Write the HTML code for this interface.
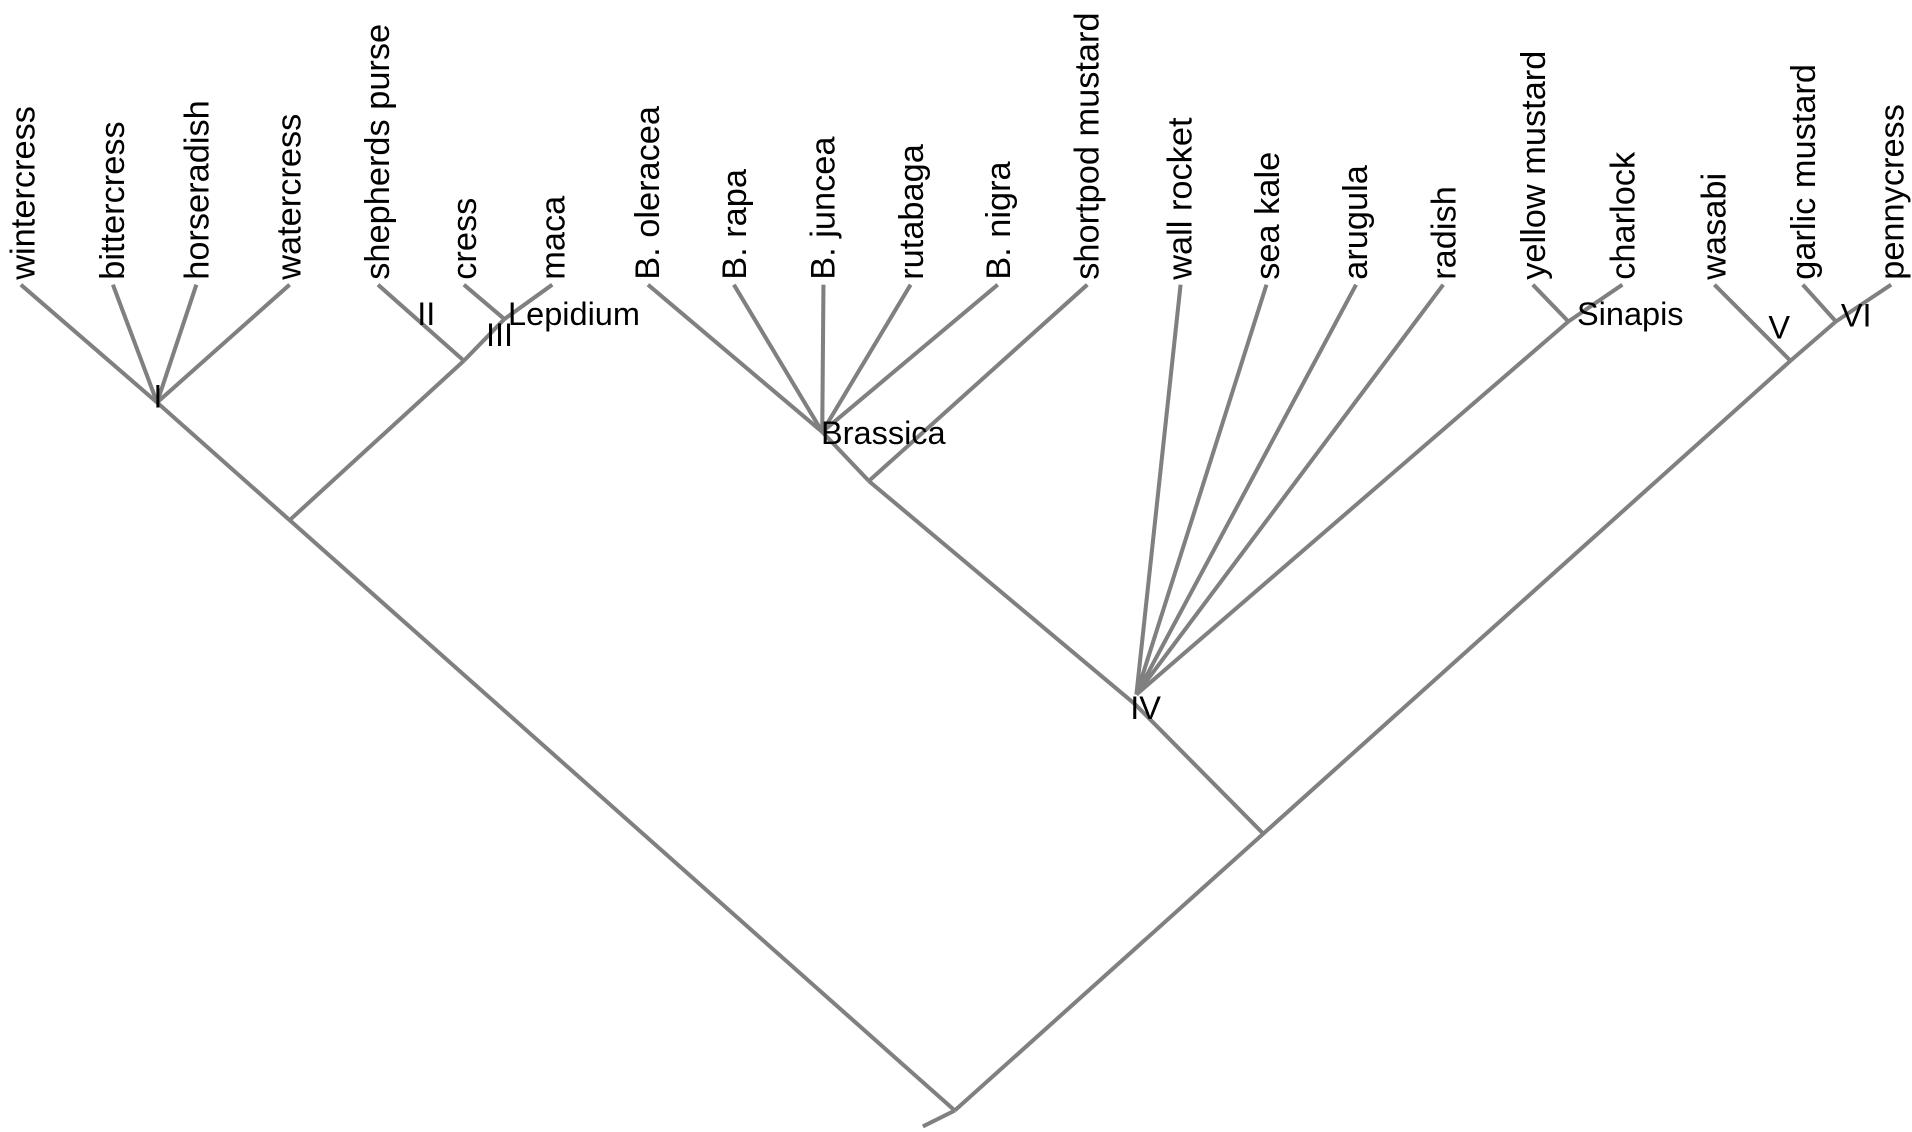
<!DOCTYPE html>
<html><head><meta charset="utf-8"><style>
html,body{margin:0;padding:0;background:#fff;}
svg{display:block;}
text{font-family:"Liberation Sans",Arial,sans-serif;font-size:26.5px;fill:#000;}
text.leaf{font-size:28px;}
</style></head><body>
<svg width="1912" height="1132" viewBox="0 0 1558 922.5" preserveAspectRatio="none">
<g stroke="#808080" stroke-width="3.3" fill="none" stroke-linecap="butt">
<line x1="17" y1="232" x2="128" y2="328"/>
<line x1="92" y1="232" x2="128" y2="328"/>
<line x1="160" y1="232" x2="128" y2="328"/>
<line x1="236" y1="232" x2="128" y2="328"/>
<line x1="128" y1="328" x2="778" y2="905"/>
<line x1="308" y1="232" x2="378" y2="294"/>
<line x1="378" y1="232" x2="411" y2="260"/>
<line x1="450" y1="232" x2="411" y2="260"/>
<line x1="411" y1="260" x2="378" y2="294"/>
<line x1="378" y1="294" x2="237" y2="423"/>
<line x1="528" y1="232" x2="670" y2="352"/>
<line x1="598" y1="232" x2="670" y2="352"/>
<line x1="671" y1="232" x2="670" y2="352"/>
<line x1="742" y1="232" x2="670" y2="352"/>
<line x1="813" y1="232" x2="670" y2="352"/>
<line x1="670" y1="352" x2="708" y2="392"/>
<line x1="886" y1="232" x2="708" y2="392"/>
<line x1="708" y1="392" x2="925" y2="574"/>
<line x1="962" y1="232" x2="926" y2="566"/>
<line x1="1032" y1="232" x2="926" y2="566"/>
<line x1="1105" y1="232" x2="926" y2="566"/>
<line x1="1176" y1="232" x2="926" y2="566"/>
<line x1="1249" y1="232" x2="1278" y2="262"/>
<line x1="1322" y1="232" x2="1278" y2="262"/>
<line x1="1278" y1="262" x2="926" y2="566"/>
<line x1="925" y1="574" x2="1030" y2="680"/>
<line x1="1397" y1="232" x2="1459" y2="294"/>
<line x1="1469" y1="232" x2="1496" y2="262"/>
<line x1="1541" y1="232" x2="1496" y2="262"/>
<line x1="1496" y1="262" x2="1459" y2="294"/>
<line x1="1459" y1="294" x2="778" y2="905"/>
<line x1="778" y1="905" x2="752" y2="918"/>
</g>
<g>
<text class="leaf" transform="translate(28,228) rotate(-90)">wintercress</text>
<text class="leaf" transform="translate(101,228) rotate(-90)">bittercress</text>
<text class="leaf" transform="translate(170,228) rotate(-90)">horseradish</text>
<text class="leaf" transform="translate(245,228) rotate(-90)">watercress</text>
<text class="leaf" transform="translate(317,228) rotate(-90)">shepherds purse</text>
<text class="leaf" transform="translate(388,228) rotate(-90)">cress</text>
<text class="leaf" transform="translate(460,228) rotate(-90)">maca</text>
<text class="leaf" transform="translate(537,228) rotate(-90)">B. oleracea</text>
<text class="leaf" transform="translate(608,228) rotate(-90)">B. rapa</text>
<text class="leaf" transform="translate(680,228) rotate(-90)">B. juncea</text>
<text class="leaf" transform="translate(752,228) rotate(-90)">rutabaga</text>
<text class="leaf" transform="translate(823,228) rotate(-90)">B. nigra</text>
<text class="leaf" transform="translate(895,228) rotate(-90)">shortpod mustard</text>
<text class="leaf" transform="translate(971,228) rotate(-90)">wall rocket</text>
<text class="leaf" transform="translate(1042,228) rotate(-90)">sea kale</text>
<text class="leaf" transform="translate(1114,228) rotate(-90)">arugula</text>
<text class="leaf" transform="translate(1186,228) rotate(-90)">radish</text>
<text class="leaf" transform="translate(1259,228) rotate(-90)">yellow mustard</text>
<text class="leaf" transform="translate(1332,228) rotate(-90)">charlock</text>
<text class="leaf" transform="translate(1406,228) rotate(-90)">wasabi</text>
<text class="leaf" transform="translate(1479,228) rotate(-90)">garlic mustard</text>
<text class="leaf" transform="translate(1551,228) rotate(-90)">pennycress</text>

<text x="125" y="332">I</text>
<text x="340" y="265">II</text>
<text x="396" y="282">III</text>
<text x="414" y="265">Lepidium</text>
<text x="669" y="362">Brassica</text>
<text x="921" y="586">IV</text>
<text x="1285" y="265">Sinapis</text>
<text x="1441" y="276">V</text>
<text x="1500" y="266">VI</text>
</g>
</svg>
</body></html>
